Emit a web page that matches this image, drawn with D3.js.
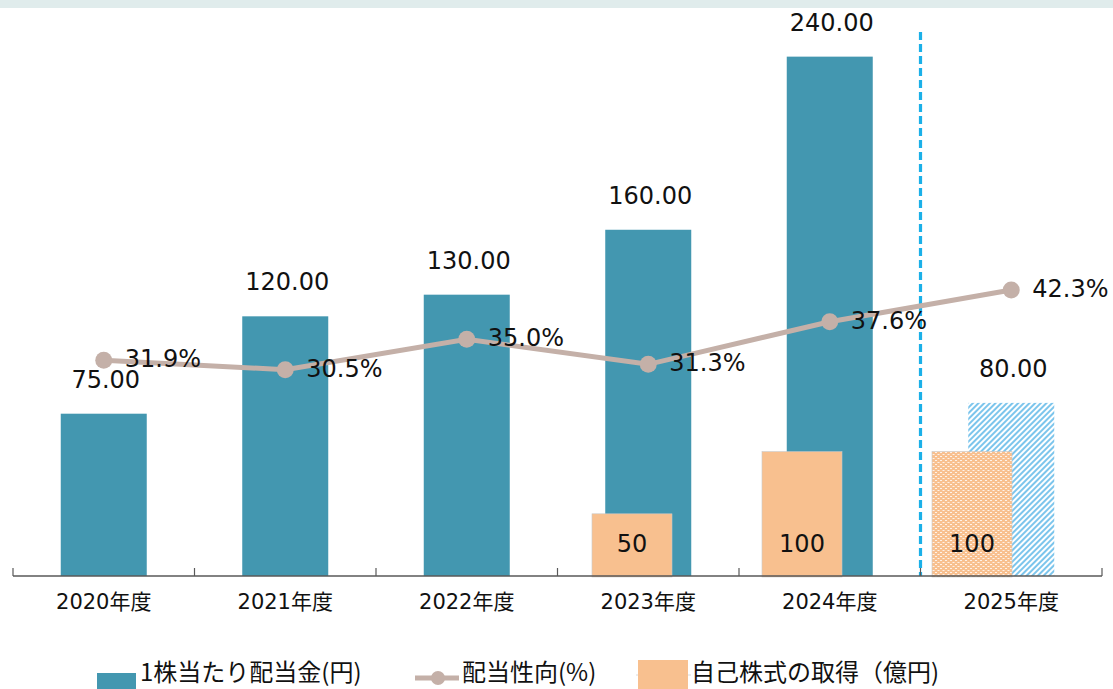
<!DOCTYPE html>
<html>
<head>
<meta charset="utf-8">
<script src="https://cdn.jsdelivr.net/npm/d3@7"></script>
<style>
  body { margin: 0; background: #fff; }
  svg { display: block; }
  .num { font-family: "DejaVu Sans", sans-serif; font-size: 24px; fill: #111; }
  .cat { font-family: "DejaVu Sans", "Noto Sans CJK JP", sans-serif; font-size: 21px; fill: #111; }
  .leg { font-family: "Noto Sans CJK JP", sans-serif; font-size: 24px; fill: #111; }
</style>
</head>
<body>
<svg id="chart"></svg>
<script>
// chart data
const years = ['2020年度', '2021年度', '2022年度', '2023年度', '2024年度', '2025年度']
const dividend = [75, 120, 130, 160, 240, 80]          // 1株当たり配当金(円)
const payout = [31.9, 30.5, 35.0, 31.3, 37.6, 42.3]    // 配当性向(%)
const buyback = [null, null, null, 50, 100, 100]       // 自己株式の取得(億円)
const forecastYear = '2025年度'

const width = 1113
const height = 689
const teal = '#4397b0'
const orange = '#f8c08f'
const lineColor = '#c4b0a8'

const svg = d3.select('#chart').attr('width', width).attr('height', height)

// top band
svg.append('rect').attr('x', 0).attr('y', 0).attr('width', width).attr('height', 8).attr('fill', '#e0ecec')

const defs = svg.append('defs')
const hatchBlue = defs.append('pattern')
    .attr('id', 'hatchBlue').attr('patternUnits', 'userSpaceOnUse')
    .attr('width', 4).attr('height', 4).attr('patternTransform', 'rotate(45)')
hatchBlue.append('rect').attr('width', 4).attr('height', 4).attr('fill', '#fff')
hatchBlue.append('line').attr('x1', 1).attr('y1', 0).attr('x2', 1).attr('y2', 4)
    .attr('stroke', '#7cc5ec').attr('stroke-width', 2)

const hatchOrange = defs.append('pattern')
    .attr('id', 'hatchOrange').attr('patternUnits', 'userSpaceOnUse')
    .attr('width', 5).attr('height', 4)
hatchOrange.append('rect').attr('width', 5).attr('height', 4).attr('fill', orange)
hatchOrange.append('rect').attr('x', 0).attr('y', 0).attr('width', 2).attr('height', 1).attr('fill', '#fff').attr('opacity', 0.8)
hatchOrange.append('rect').attr('x', 2.5).attr('y', 2).attr('width', 2).attr('height', 1).attr('fill', '#fff').attr('opacity', 0.8)

// scales
const baseY = 576
const plotTop = 35
const x = d3.scaleBand().domain(years).range([13, 1102]).padding(0)
const xBuy = d3.scaleBand().domain(years).range([37, 1057]).padding(0)
const y = d3.scaleLinear().domain([0, 250]).range([baseY, plotTop])
const y2 = d3.scaleLinear().domain([0, 435]).range([baseY, plotTop])
const yp = d3.scaleLinear().domain([0, 80]).range([baseY, plotTop])

const barW = 86
const buyW = 80
const cx = d => x(d) + x.bandwidth() / 2

// dividend bars
const divData = years.map((yr, i) => ({ yr, v: dividend[i] }))
svg.append('g').selectAll('rect').data(divData).join('rect')
    .attr('x', d => cx(d.yr) - barW / 2)
    .attr('y', d => y(d.v))
    .attr('width', barW)
    .attr('height', d => y(0) - y(d.v))
    .attr('fill', d => d.yr === forecastYear ? 'url(#hatchBlue)' : teal)

// buyback bars
const buyData = years.map((yr, i) => ({ yr, v: buyback[i] })).filter(d => d.v != null)
svg.append('g').selectAll('rect').data(buyData).join('rect')
    .attr('x', d => xBuy(d.yr) + xBuy.bandwidth() / 2 - buyW / 2)
    .attr('y', d => y2(d.v))
    .attr('width', buyW)
    .attr('height', d => y2(0) - y2(d.v) + 1)
    .attr('fill', d => d.yr === forecastYear ? 'url(#hatchOrange)' : orange)
    .attr('stroke', '#c8c8c8').attr('stroke-width', 0.6)

// forecast divider
const divX = x(forecastYear)
svg.append('line')
    .attr('x1', divX).attr('x2', divX).attr('y1', 32).attr('y2', baseY)
    .attr('stroke', '#1bb0e8').attr('stroke-width', 3.2).attr('stroke-dasharray', '8,4')

// axis
svg.append('line').attr('x1', 13).attr('x2', 1102).attr('y1', baseY).attr('y2', baseY)
    .attr('stroke', '#595959').attr('stroke-width', 1.5)
const edges = years.map(d => x(d)).concat([x.range()[1]])
svg.append('g').selectAll('line').data(edges).join('line')
    .attr('x1', d => d).attr('x2', d => d).attr('y1', baseY - 8).attr('y2', baseY)
    .attr('stroke', '#595959').attr('stroke-width', 1.2)

const axis = svg.append('g')
    .attr('transform', `translate(0, ${baseY})`)
    .call(d3.axisBottom(x).tickSize(0).tickPadding(18))
axis.select('.domain').remove()
axis.selectAll('text').attr('class', 'cat').attr('font-size', null).attr('font-family', null).attr('fill', null)

// payout line
const pts = years.map((yr, i) => ({ yr, v: payout[i] }))
const line = d3.line().x(d => cx(d.yr)).y(d => yp(d.v))
svg.append('path').datum(pts)
    .attr('d', line).attr('fill', 'none')
    .attr('stroke', lineColor).attr('stroke-width', 5)
svg.append('g').selectAll('circle').data(pts).join('circle')
    .attr('cx', d => cx(d.yr)).attr('cy', d => yp(d.v)).attr('r', 8.5)
    .attr('fill', lineColor)

// labels
svg.append('g').selectAll('text').data(divData).join('text')
    .attr('class', 'num')
    .attr('x', d => cx(d.yr) + 2)
    .attr('y', d => y(d.v) - 26)
    .attr('text-anchor', 'middle')
    .text(d => d3.format('.2f')(d.v))

svg.append('g').selectAll('text').data(buyData).join('text')
    .attr('class', 'num')
    .attr('x', d => xBuy(d.yr) + xBuy.bandwidth() / 2)
    .attr('y', y2(0) - 24)
    .attr('text-anchor', 'middle')
    .text(d => d.v)

svg.append('g').selectAll('text').data(pts).join('text')
    .attr('class', 'num')
    .attr('x', d => cx(d.yr) + 21)
    .attr('y', d => yp(d.v) + 7)
    .text(d => d3.format('.1f')(d.v) + '%')

// legend
const legY = 681
const leg = svg.append('g')
leg.append('rect').attr('x', 97).attr('y', 673).attr('width', 39).attr('height', 16).attr('fill', teal)
leg.append('text').attr('class', 'leg').attr('x', 140).attr('y', legY).text('1株当たり配当金(円)')

leg.append('line').attr('x1', 415).attr('x2', 459).attr('y1', 678).attr('y2', 678)
    .attr('stroke', lineColor).attr('stroke-width', 5)
leg.append('circle').attr('cx', 438).attr('cy', 678).attr('r', 7).attr('fill', lineColor)
leg.append('text').attr('class', 'leg').attr('x', 462).attr('y', legY).text('配当性向(%)')

leg.append('line').attr('x1', 636).attr('x2', 691).attr('y1', 675).attr('y2', 675)
    .attr('stroke', '#d0d0d0').attr('stroke-width', 0.8)
leg.append('rect').attr('x', 638).attr('y', 660).attr('width', 50).attr('height', 30).attr('fill', orange)
leg.append('text').attr('class', 'leg').attr('x', 691).attr('y', legY).text('自己株式の取得（億円)')
</script>
</body>
</html>
